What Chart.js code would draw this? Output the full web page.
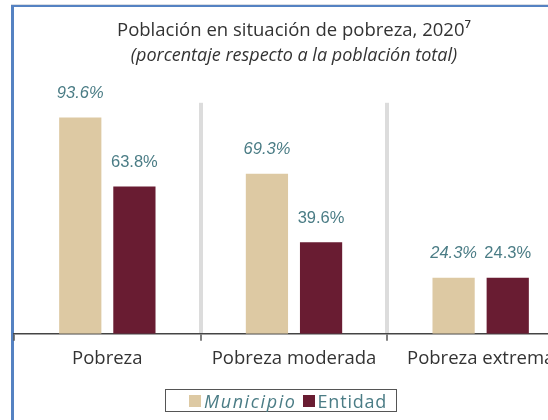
<!DOCTYPE html>
<html>
<head>
<meta charset="utf-8">
<script src="https://cdn.jsdelivr.net/npm/chart.js@4.4.1/dist/chart.umd.min.js"></script>
<style>
  html, body { margin: 0; padding: 0; width: 548px; height: 420px; overflow: hidden; background: #fff; }
  #frame {
    position: absolute; left: 11px; top: 4px; width: 600px; height: 430px;
    border-top: 1px solid #d9dde3;
  }
  #inner {
    position: absolute; left: 0; top: 0; right: 0; bottom: 0;
    border-left: 3px solid #5582c2; border-top: 2px solid #5582c2;
  }
  #wrap { position: absolute; left: 12px; top: 7px; width: 562px; height: 413px; }
  #legend {
    position: absolute; left: 165px; top: 389px; width: 207px; height: 21px; padding-left: 23px;
    border: 1px solid #555; display: flex; align-items: center;
    font-family: 'Open Sans', 'DejaVu Sans', sans-serif; font-size: 18px; color: #4a7c85;
  }
  #legend .item { display: flex; align-items: center; }
  #legend .box { width: 12px; height: 12px; margin-right: 3px; }
</style>
</head>
<body>
<div id="frame"><div id="inner"></div></div>
<div id="wrap"><canvas id="grafica"></canvas></div>
<div id="legend"></div>
<script>
const categorias = ['Pobreza', 'Pobreza moderada', 'Pobreza extrema'];
const municipio = [93.6, 69.3, 24.3];
const entidad = [63.8, 39.6, 24.3];
const series = ['Municipio', 'Entidad'];

const colorTexto = '#4a7c85';
const fuente = "'Open Sans', 'DejaVu Sans', sans-serif";

// etiquetas encima de las barras
const etiquetas = {
  id: 'etiquetas',
  afterDatasetsDraw(chart) {
    const ctx = chart.ctx;
    ctx.save();
    ctx.fillStyle = colorTexto;
    ctx.textAlign = 'center';
    ctx.textBaseline = 'middle';
    chart.data.datasets.forEach((ds, i) => {
      ctx.font = (i === 0 ? 'italic ' : '') + "16.5px 'Liberation Sans', Arial, sans-serif";
      chart.getDatasetMeta(i).data.forEach((bar, j) => {
        ctx.fillText(ds.data[j].toFixed(1) + '%', bar.x, bar.y - 24);
      });
    });
    ctx.restore();
  }
};

const chart = new Chart(document.getElementById('grafica'), {
  type: 'bar',
  data: {
    labels: categorias,
    datasets: [
      { label: series[0], data: municipio, backgroundColor: '#ddc9a3' },
      { label: series[1], data: entidad, backgroundColor: '#691c32' }
    ]
  },
  options: {
    responsive: true,
    maintainAspectRatio: false,
    animation: false,
    categoryPercentage: 0.58,
    barPercentage: 0.78,
    layout: { padding: { left: 2, right: 0, top: 0, bottom: 43 } },
    plugins: {
      legend: { display: false },
      tooltip: { enabled: false },
      title: {
        display: true,
        text: 'Población en situación de pobreza, 2020⁷',
        color: '#333',
        font: { family: fuente, size: 18.5, weight: 'normal' },
        padding: { top: 13, bottom: 3 }
      },
      subtitle: {
        display: true,
        text: '(porcentaje respecto a la población total)',
        color: '#333',
        font: { family: fuente, size: 18, style: 'italic' },
        padding: { top: 0, bottom: 36 }
      }
    },
    scales: {
      x: {
        grid: {
          display: true,
          offset: true,
          color: (c) => (c.index === 0 ? 'rgba(0,0,0,0)' : '#dcdcdc'),
          lineWidth: 4,
          tickColor: '#555',
          tickLength: 7,
          tickWidth: 1.5
        },
        border: { display: true, color: '#444', width: 1.5 },
        ticks: { color: '#333', font: { family: fuente, size: 18.5 }, padding: 7 }
      },
      y: {
        display: false,
        min: 0,
        max: 100
      }
    }
  },
  plugins: [etiquetas]
});

// leyenda en html
const colores = chart.data.datasets.map((d) => d.backgroundColor);
document.getElementById('legend').innerHTML = series.map((s, i) =>
  `<span class="item"><span class="box" style="background:${colores[i]}"></span>` +
  `<span style="font-style:${i === 0 ? 'italic' : 'normal'}; letter-spacing:${i === 0 ? 1.6 : 0.8}px; margin-right:${i === 0 ? 6 : 0}px">${s}</span></span>`
).join('');
</script>
</body>
</html>
